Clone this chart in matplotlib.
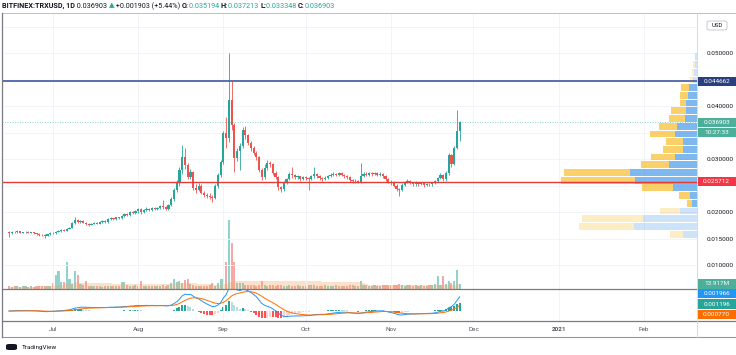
import numpy as np
import pandas as pd
import matplotlib
matplotlib.use("Agg")
import matplotlib.pyplot as plt
from matplotlib.patches import Rectangle, FancyBboxPatch
from matplotlib.lines import Line2D

plt.rcParams['font.family'] = ['Roboto', 'DejaVu Sans']

# ---- data (daily TRX/USD candles, 15 Jun - 26 Nov 2020) ----
first_open = 0.0163
close_jun = [0.0160, 0.0163, 0.0162, 0.0164, 0.0161, 0.0162, 0.0163, 0.0161,
             0.0162, 0.0160, 0.0159, 0.0157, 0.0156, 0.0155, 0.0158, 0.0161]
high_jun = [0.0165, 0.0164, 0.0165, 0.0166, 0.0165, 0.0163, 0.0165, 0.0164,
            0.0163, 0.0163, 0.0161, 0.0160, 0.0159, 0.0158, 0.0159, 0.0162]
low_jun = [0.0152, 0.0159, 0.0160, 0.0161, 0.0160, 0.0160, 0.0161, 0.0160,
           0.0160, 0.0159, 0.0157, 0.0155, 0.0155, 0.0151, 0.0154, 0.0157]

close_jul = [0.0160, 0.0163, 0.0164, 0.0166, 0.0165, 0.0168, 0.0170, 0.0179,
             0.0184, 0.0181, 0.0183, 0.0180, 0.0177, 0.0176, 0.0178, 0.0180,
             0.0178, 0.0182, 0.0183, 0.0181, 0.0186, 0.0188, 0.0186, 0.0190,
             0.0188, 0.0192, 0.0196, 0.0194, 0.0200, 0.0198, 0.0202]
high_jul = [0.0162, 0.0164, 0.0166, 0.0167, 0.0167, 0.0169, 0.0172, 0.0181,
            0.0190, 0.0186, 0.0185, 0.0184, 0.0181, 0.0179, 0.0179, 0.0182,
            0.0181, 0.0183, 0.0185, 0.0184, 0.0188, 0.0190, 0.0189, 0.0191,
            0.0191, 0.0194, 0.0198, 0.0198, 0.0202, 0.0202, 0.0204]
low_jul = [0.0158, 0.0159, 0.0162, 0.0163, 0.0164, 0.0164, 0.0167, 0.0169,
           0.0177, 0.0179, 0.0180, 0.0179, 0.0176, 0.0174, 0.0175, 0.0177,
           0.0177, 0.0177, 0.0180, 0.0180, 0.0180, 0.0185, 0.0185, 0.0185,
           0.0187, 0.0187, 0.0191, 0.0193, 0.0193, 0.0196, 0.0197]

close_aug = [0.0205, 0.0200, 0.0204, 0.0206, 0.0203, 0.0208, 0.0205, 0.0207,
             0.0212, 0.0209, 0.0206, 0.0214, 0.0224, 0.0242, 0.0255, 0.0279,
             0.0304, 0.0289, 0.0266, 0.0275, 0.0245, 0.0242, 0.0250, 0.0236,
             0.0232, 0.0230, 0.0229, 0.0226, 0.0250, 0.0270, 0.0294]
high_aug = [0.0208, 0.0207, 0.0206, 0.0209, 0.0207, 0.0210, 0.0209, 0.0209,
            0.0214, 0.0222, 0.0211, 0.0216, 0.0228, 0.0245, 0.0260, 0.0285,
            0.0326, 0.0320, 0.0292, 0.0282, 0.0278, 0.0252, 0.0254, 0.0253,
            0.0240, 0.0236, 0.0235, 0.0232, 0.0253, 0.0273, 0.0298]
low_aug = [0.0199, 0.0197, 0.0198, 0.0202, 0.0201, 0.0201, 0.0203, 0.0203,
           0.0205, 0.0206, 0.0203, 0.0204, 0.0212, 0.0221, 0.0238, 0.0250,
           0.0272, 0.0282, 0.0262, 0.0262, 0.0242, 0.0236, 0.0239, 0.0234,
           0.0228, 0.0226, 0.0225, 0.0219, 0.0224, 0.0246, 0.0266]

close_sep = [0.0349, 0.0340, 0.0411, 0.0365, 0.0302, 0.0315, 0.0325, 0.0355,
             0.0345, 0.0330, 0.0321, 0.0312, 0.0304, 0.0279, 0.0266, 0.0283,
             0.0292, 0.0290, 0.0274, 0.0266, 0.0247, 0.0244, 0.0255, 0.0262,
             0.0272, 0.0269, 0.0266, 0.0267, 0.0263, 0.0266]
high_sep = [0.0352, 0.0380, 0.0500, 0.0447, 0.0368, 0.0320, 0.0330, 0.0360,
            0.0362, 0.0348, 0.0334, 0.0325, 0.0316, 0.0306, 0.0283, 0.0290,
            0.0298, 0.0296, 0.0292, 0.0277, 0.0268, 0.0250, 0.0258, 0.0265,
            0.0275, 0.0285, 0.0272, 0.0270, 0.0268, 0.0268]
low_sep = [0.0290, 0.0320, 0.0332, 0.0355, 0.0275, 0.0296, 0.0280, 0.0320,
           0.0338, 0.0326, 0.0316, 0.0307, 0.0298, 0.0275, 0.0260, 0.0262,
           0.0280, 0.0285, 0.0270, 0.0262, 0.0242, 0.0238, 0.0240, 0.0252,
           0.0260, 0.0265, 0.0262, 0.0262, 0.0259, 0.0260]

close_oct = [0.0264, 0.0262, 0.0267, 0.0272, 0.0268, 0.0264, 0.0262, 0.0265,
             0.0268, 0.0270, 0.0272, 0.0270, 0.0273, 0.0270, 0.0268, 0.0266,
             0.0260, 0.0258, 0.0259, 0.0257, 0.0268, 0.0272, 0.0270, 0.0273,
             0.0271, 0.0273, 0.0270, 0.0272, 0.0268, 0.0262, 0.0257]
high_oct = [0.0268, 0.0266, 0.0270, 0.0285, 0.0273, 0.0269, 0.0266, 0.0268,
            0.0270, 0.0273, 0.0275, 0.0274, 0.0276, 0.0275, 0.0272, 0.0270,
            0.0268, 0.0262, 0.0262, 0.0261, 0.0292, 0.0276, 0.0275, 0.0276,
            0.0275, 0.0276, 0.0275, 0.0275, 0.0274, 0.0270, 0.0264]
low_oct = [0.0260, 0.0242, 0.0260, 0.0265, 0.0265, 0.0261, 0.0259, 0.0260,
           0.0263, 0.0266, 0.0268, 0.0267, 0.0268, 0.0267, 0.0265, 0.0263,
           0.0257, 0.0254, 0.0255, 0.0254, 0.0255, 0.0266, 0.0267, 0.0268,
           0.0268, 0.0269, 0.0267, 0.0268, 0.0265, 0.0259, 0.0254]

close_nov = [0.0255, 0.0250, 0.0244, 0.0242, 0.0251, 0.0256, 0.0259, 0.0254,
             0.0252, 0.0255, 0.0253, 0.0254, 0.0251, 0.0253, 0.0252, 0.0255,
             0.0258, 0.0264, 0.0270, 0.0262, 0.0274, 0.0307, 0.0290, 0.0320,
             0.035194, 0.036903]
high_nov = [0.0260, 0.0258, 0.0252, 0.0246, 0.0254, 0.0259, 0.0262, 0.0260,
            0.0256, 0.0258, 0.0256, 0.0257, 0.0256, 0.0255, 0.0255, 0.0257,
            0.0260, 0.0266, 0.0274, 0.0272, 0.0278, 0.0312, 0.0310, 0.0325,
            0.0392, 0.037213]
low_nov = [0.0251, 0.0247, 0.0240, 0.0230, 0.0240, 0.0249, 0.0254, 0.0252,
           0.0249, 0.0250, 0.0250, 0.0251, 0.0248, 0.0249, 0.0249, 0.0250,
           0.0253, 0.0256, 0.0262, 0.0258, 0.0258, 0.0270, 0.0285, 0.0288,
           0.0318, 0.033348]

# volume, millions
vol_jun = [7, 6, 8, 7, 6, 7, 8, 6, 7, 6, 7, 8, 9, 7, 8, 9]
vol_jul = [17, 39, 50, 19, 19, 75, 28, 14, 50, 39, 14, 10, 22, 9, 8, 7,
           8, 7, 6, 8, 7, 8, 7, 8, 9, 19, 19, 10, 9, 8, 10]
vol_aug = [8, 22, 9, 8, 9, 8, 9, 8, 9, 10, 9, 12, 17, 28, 19, 22,
           17, 25, 28, 14, 10, 9, 8, 9, 8, 9, 12, 17, 9, 17, 28]
vol_sep = [28, 75, 190, 128, 75, 17, 17, 17, 12, 10, 11, 10, 9, 10, 22,
           10, 9, 11, 10, 9, 12, 10, 9, 9, 10, 9, 9, 10, 9, 9]
vol_oct = [9, 12, 10, 11, 9, 8, 9, 10, 9, 8, 9, 10, 9, 9, 8, 9,
           10, 10, 9, 9, 22, 12, 10, 9, 9, 10, 9, 8, 10, 11, 12]
vol_nov = [10, 12, 11, 13, 10, 9, 10, 12, 9, 10, 9, 10, 9, 9, 10, 11,
           14, 36, 12, 36, 14, 22, 17, 22, 53, 13.917]

# visible-range volume profile, 24 rows from bottom to top (relative volume)
vp_blue = [14, 63, 54, 17, 5, 7, 24, 62, 67, 28, 22, 14,
           14, 22, 20, 12, 11, 11, 9, 8, 4, 3, 2, 1.5]
vp_yellow = [13, 55, 61, 20, 5, 11, 31, 74, 66, 28, 24, 20,
             17, 25, 18, 16, 15, 6, 8, 8, 3, 2, 2, 0]
va_rows = (4, 19)  # value area rows

line_blue = 0.044662
line_red = 0.025712
last_price = 0.036903
macd_tags = ['0.001966', '0.001196', '0.000770']

month_labels = ['Jul', 'Aug', 'Sep', 'Oct', 'Nov', 'Dec', '2021', 'Feb']
month_starts = ['2020-07-01', '2020-08-01', '2020-09-01', '2020-10-01',
                '2020-11-01', '2020-12-01', '2021-01-01', '2021-02-01']

# ---- prepare ----
closes = np.array(close_jun + close_jul + close_aug + close_sep + close_oct + close_nov)
highs = np.array(high_jun + high_jul + high_aug + high_sep + high_oct + high_nov)
lows = np.array(low_jun + low_jul + low_aug + low_sep + low_oct + low_nov)
opens = np.concatenate([[first_open], closes[:-1]])
vols = np.array(vol_jun + vol_jul + vol_aug + vol_sep + vol_oct + vol_nov, dtype=float)

ref = pd.Timestamp('2020-07-01')
dates = pd.date_range('2020-06-15', periods=len(closes), freq='D')
d = np.array((dates - ref).days, dtype=float)
mticks = [(pd.Timestamp(m) - ref).days for m in month_starts]

up = closes >= opens
GREEN = '#26a69a'
RED = '#ef5350'
ccol = np.where(up, GREEN, RED)

cs = pd.Series(closes)
macd = cs.ewm(span=12, adjust=False).mean() - cs.ewm(span=26, adjust=False).mean()
signal = macd.ewm(span=9, adjust=False).mean()
hist = (macd - signal).values
macd = macd.values
signal = signal.values

W, H = 736, 355
def fx(x):
    return x / W
def fy(y):
    return 1 - y / H

fig = plt.figure(figsize=(W / 100, H / 100), dpi=100)
fig.patch.set_facecolor('white')

XL = (-18.56, 234.35)
price_rect = [fx(2), fy(289), fx(695), 276 / H]
macd_rect = [fx(2), fy(321), fx(695), 32 / H]

# volume (bottom layer)
ax_vol = fig.add_axes(price_rect)
ax_vol.bar(d, vols, width=0.75, color=ccol, alpha=0.5, lw=0)
vol_ma = pd.Series(vols).rolling(50, min_periods=1).mean().values
ax_vol.fill_between(d, 0, vol_ma, color='#f5a35c', alpha=0.32, lw=0, step='mid')
ax_vol.set_ylim(0, 760)
ax_vol.set_xlim(*XL)
ax_vol.axis('off')

# price
ax = fig.add_axes(price_rect, sharex=ax_vol)
ax.patch.set_alpha(0)
ax.set_ylim(0.005472, 0.05755)
ax.set_xlim(*XL)
yticks = np.arange(0.010, 0.0551, 0.005)
ax.set_yticks(yticks)
ax.yaxis.tick_right()
ax.tick_params(axis='y', length=0, pad=7, labelsize=4.6, labelcolor='#131722')
ax.tick_params(axis='x', length=0, labelbottom=False)
ax.set_xticks(mticks)
ax.grid(True, color='#f0f3fa', lw=0.6)
ax.set_axisbelow(True)
for s in ax.spines.values():
    s.set_visible(False)

ax.vlines(d, lows, highs, colors=ccol, lw=0.6, zorder=3)
body_h = np.maximum(np.abs(closes - opens), 0.00005)
ax.bar(d, body_h, bottom=np.minimum(opens, closes), width=0.8, color=ccol, lw=0, zorder=4)

# volume profile overlay
ax_vp = fig.add_axes(price_rect, sharey=ax)
ax_vp.patch.set_alpha(0)
ax_vp.set_xlim(695, 0)
ax_vp.axis('off')
edges = np.linspace(lows.min(), highs.max(), len(vp_blue) + 1)
rh = edges[1] - edges[0]
for i in range(len(vp_blue)):
    inside = va_rows[0] <= i <= va_rows[1]
    a = 0.72 if inside else 0.28
    yc = edges[i] + rh / 2
    ax_vp.barh(yc, vp_blue[i], height=rh * 0.88, left=0, color='#2e8ae6', alpha=a * 0.85, lw=0)
    ax_vp.barh(yc, vp_yellow[i], height=rh * 0.88, left=vp_blue[i], color='#f7bf2f', alpha=a, lw=0)

ax_vp.axhline(line_blue, color='#4e64a6', lw=1.3, zorder=6)
ax_vp.axhline(line_red, color='#e53935', lw=1.0, zorder=6)
ax_vp.axhline(last_price, color='#26a69a', lw=0.6, ls=(0, (1, 2)), alpha=0.7, zorder=6)

# MACD pane
axm = fig.add_axes(macd_rect, sharex=ax_vol)
axm.set_xlim(*XL)
axm.set_ylim(-0.0014, 0.0031)
hcol = []
for i in range(len(hist)):
    prev = hist[i - 1] if i > 0 else hist[i]
    if hist[i] >= 0:
        hcol.append('#26a69a' if hist[i] >= prev else '#b2dfdb')
    else:
        hcol.append('#ffcdd2' if hist[i] >= prev else '#ff5252')
axm.bar(d, hist, width=0.75, color=hcol, lw=0)
axm.plot(d, macd, color='#2196f3', lw=0.7)
axm.plot(d, signal, color='#ff6d00', lw=0.7)
axm.set_xticks(mticks)
axm.set_xticklabels(month_labels)
axm.tick_params(axis='x', length=0, pad=4, labelsize=4.6, labelcolor='#50535e')
axm.set_yticks([])
axm.grid(True, axis='x', color='#f0f3fa', lw=0.6)
for lab in axm.get_xticklabels():
    if lab.get_text() == '2021':
        lab.set_fontweight('bold')
for s in axm.spines.values():
    s.set_visible(False)

# ---- frame lines ----
def hline(y, x0, x1, c='#8a8d96', lw=0.8):
    fig.lines.append(Line2D([fx(x0), fx(x1)], [fy(y), fy(y)], color=c, lw=lw, transform=fig.transFigure))
def vline(x, y0, y1, c='#8a8d96', lw=0.8):
    fig.lines.append(Line2D([fx(x), fx(x)], [fy(y0), fy(y1)], color=c, lw=lw, transform=fig.transFigure))

hline(12.5, 2, 736, c='#b2b5be', lw=0.6)
hline(289, 2, 736, c='#787b86', lw=0.9)
hline(321, 2, 736, c='#787b86', lw=0.9)
hline(337, 2, 736, c='#9598a1', lw=0.8)
vline(2, 12.5, 337, c='#787b86', lw=0.9)
vline(697, 12.5, 337, c='#d1d4dc', lw=0.6)

# ---- axis tags ----
def ypix(axis, val):
    return H - axis.transData.transform((0, val))[1]

tag_ys = []
def tag(yc, text, color, tc='white', h=9.5):
    tag_ys.append(yc)
    fig.patches.append(Rectangle((fx(697.5), fy(yc + h / 2)), fx(38.5), h / H,
                                 transform=fig.transFigure, facecolor=color,
                                 edgecolor='none', zorder=5))
    fig.text(fx(716.5), fy(yc), text, color=tc, fontsize=4.6, ha='center',
             va='center', zorder=6)

tag(ypix(ax, line_blue), '%.6f' % line_blue, '#2a3f7e')
yp = ypix(ax, last_price)
tag(yp, '%.6f' % last_price, '#4caf9a')
tag(yp + 10, '10:27:33', '#4caf9a')
tag(ypix(ax, line_red), '%.6f' % line_red, '#f23645')
tag(ypix(ax_vol, vols[-1]), '%.3fM' % vols[-1], '#4caf9a')

# MACD tags, stacked so they don't overlap and stay inside the pane
mcols = ['#2196f3', '#26a69a', '#ff6d00']
ys = [ypix(axm, float(t)) for t in macd_tags]
ys[0] = max(ys[0], 289 + 5)
for i in range(1, len(ys)):
    ys[i] = max(ys[i], ys[i - 1] + 10.5)
shift = max(0, ys[-1] - (321 - 6.5))
for t, c, y in zip(macd_tags, mcols, ys):
    tag(y - shift, t, c)

# USD badge
usd_y = 25.5
tag_ys.append(usd_y)
fig.patches.append(FancyBboxPatch((fx(707), fy(30)), fx(20), 9 / H,
                                  boxstyle='round,pad=0,rounding_size=0.004',
                                  transform=fig.transFigure, facecolor='white',
                                  edgecolor='#b2b5be', lw=0.5, zorder=5))
fig.text(fx(717), fy(usd_y), 'USD', fontsize=4.3, color='#131722', ha='center',
         va='center', zorder=6)

# price labels hidden behind the tags, as on the chart
labels = []
for v in yticks:
    yy = ypix(ax, v)
    hidden = any(abs(yy - ty) < 8 for ty in tag_ys)
    labels.append('' if hidden else '%.6f' % v)
ax.set_yticklabels(labels)

# ---- header ----
fig.canvas.draw()
renderer = fig.canvas.get_renderer()
pieces = [('BITFINEX:TRXUSD, 1D', '#131722', 'bold'),
          (' 0.036903 ', '#131722', 'normal'),
          ('\u25b2', '#26a69a', 'normal'),
          (' +0.001903 (+5.44%) ', '#131722', 'normal'),
          ('O:', '#131722', 'bold'), ('0.035194 ', '#26a69a', 'normal'),
          ('H:', '#131722', 'bold'), ('0.037213 ', '#26a69a', 'normal'),
          ('L:', '#131722', 'bold'), ('0.033348 ', '#26a69a', 'normal'),
          ('C:', '#131722', 'bold'), ('0.036903', '#26a69a', 'normal')]
xpos = 2.0
for txt, col, wt in pieces:
    t = fig.text(fx(xpos), fy(6), txt, color=col, fontsize=5.2, fontweight=wt,
                 va='center', ha='left')
    ext = t.get_window_extent(renderer)
    xpos += ext.width

# logo
fig.text(fx(22), fy(347), 'TradingView', fontsize=4.6, color='#131722',
         va='center', ha='left')
fig.patches.append(FancyBboxPatch((fx(6), fy(350)), fx(11), 6 / H,
                                  boxstyle='round,pad=0,rounding_size=0.004',
                                  transform=fig.transFigure, facecolor='#131722',
                                  edgecolor='none', zorder=5))

fig.savefig('out.png', dpi=100)
